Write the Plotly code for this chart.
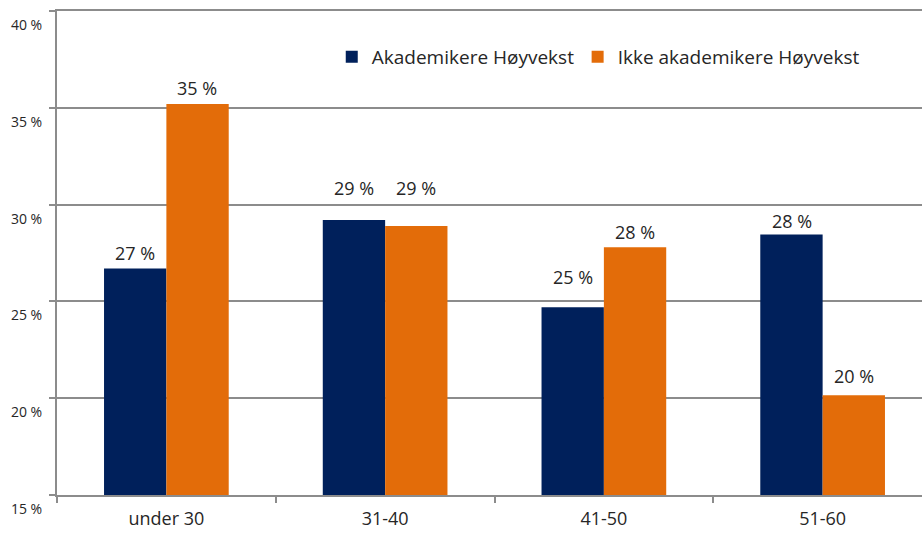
import plotly.graph_objects as go

# ── Data ───────────────────────────────────────────────────────────────────────
age_groups = ["under 30", "31-40", "41-50", "51-60"]
akademikere = [26.7, 29.2, 24.7, 28.45]
ikke_akademikere = [35.2, 28.9, 27.8, 20.15]
y_ticks = [15, 20, 25, 30, 35, 40]
y_tick_labels = ["15 %", "20 %", "25 %", "30 %", "35 %", "40 %"]

NAVY = "#00205B"
ORANGE = "#E36C09"
GRID = "#8C8C8C"
TXT = "#262626"
FONT = "Open Sans"

# label lift above bar top (px), as placed in the original
lift_navy = [15, 32, 30, 14]
lift_orange = [16, 38, 15, 19]

fig = go.Figure()
series = [
    ("Akademikere Høyvekst", akademikere, NAVY, "legend", -31, lift_navy),
    ("Ikke akademikere Høyvekst", ikke_akademikere, ORANGE, "legend2", 31, lift_orange),
]
for name, vals, col, leg, dx, lift in series:
    fig.add_trace(go.Bar(
        x=age_groups, y=vals, name=name, legend=leg,
        marker=dict(color=col, line=dict(width=0)),
    ))
    for cat, v, s in zip(age_groups, vals, lift):
        fig.add_annotation(
            x=cat, y=v, xref="x", yref="y",
            text=f"{v:.0f} %", showarrow=False,
            xshift=dx, yshift=s, yanchor="middle",
            font=dict(size=18, color=TXT, family=FONT),
        )

leg_style = dict(
    orientation="h", y=0.905, xanchor="left", yanchor="middle",
    font=dict(size=19, color=TXT, family=FONT),
    bgcolor="rgba(0,0,0,0)",
)
# plot area runs a little past the right edge of the window, as in the original
fig.update_layout(
    width=932, height=538,
    plot_bgcolor="white", paper_bgcolor="white",
    margin=dict(l=57, r=0, t=11, b=43),
    barmode="group", bargap=0.43, bargroupgap=0,
    font=dict(family=FONT, size=17, color=TXT),
    legend=dict(x=0.314, **leg_style),
    legend2=dict(x=0.595, **leg_style),
    showlegend=True,
)
fig.update_xaxes(
    automargin=False,
    showline=True, linecolor=GRID, linewidth=2, mirror=True,
    ticks="outside", tickson="boundaries", ticklen=6, tickcolor=GRID, tickwidth=2,
    tickfont=dict(size=18, color=TXT),
    ticklabelstandoff=6,
    showgrid=False,
)
fig.update_yaxes(
    automargin=False,
    range=[15, 40], tickvals=y_ticks, ticktext=y_tick_labels,
    showline=True, linecolor=GRID, linewidth=2,
    showgrid=True, gridcolor=GRID, gridwidth=2,
    ticks="outside", ticklen=6, tickcolor=GRID, tickwidth=2,
    tickfont=dict(size=14, color=TXT),
    ticklabelshift=14, ticklabelstandoff=4,
    zeroline=False,
)

fig.write_html(
    "out.html",
    config={"displayModeBar": False},
    post_script="document.body.style.margin='0';document.body.style.overflow='hidden';",
)
